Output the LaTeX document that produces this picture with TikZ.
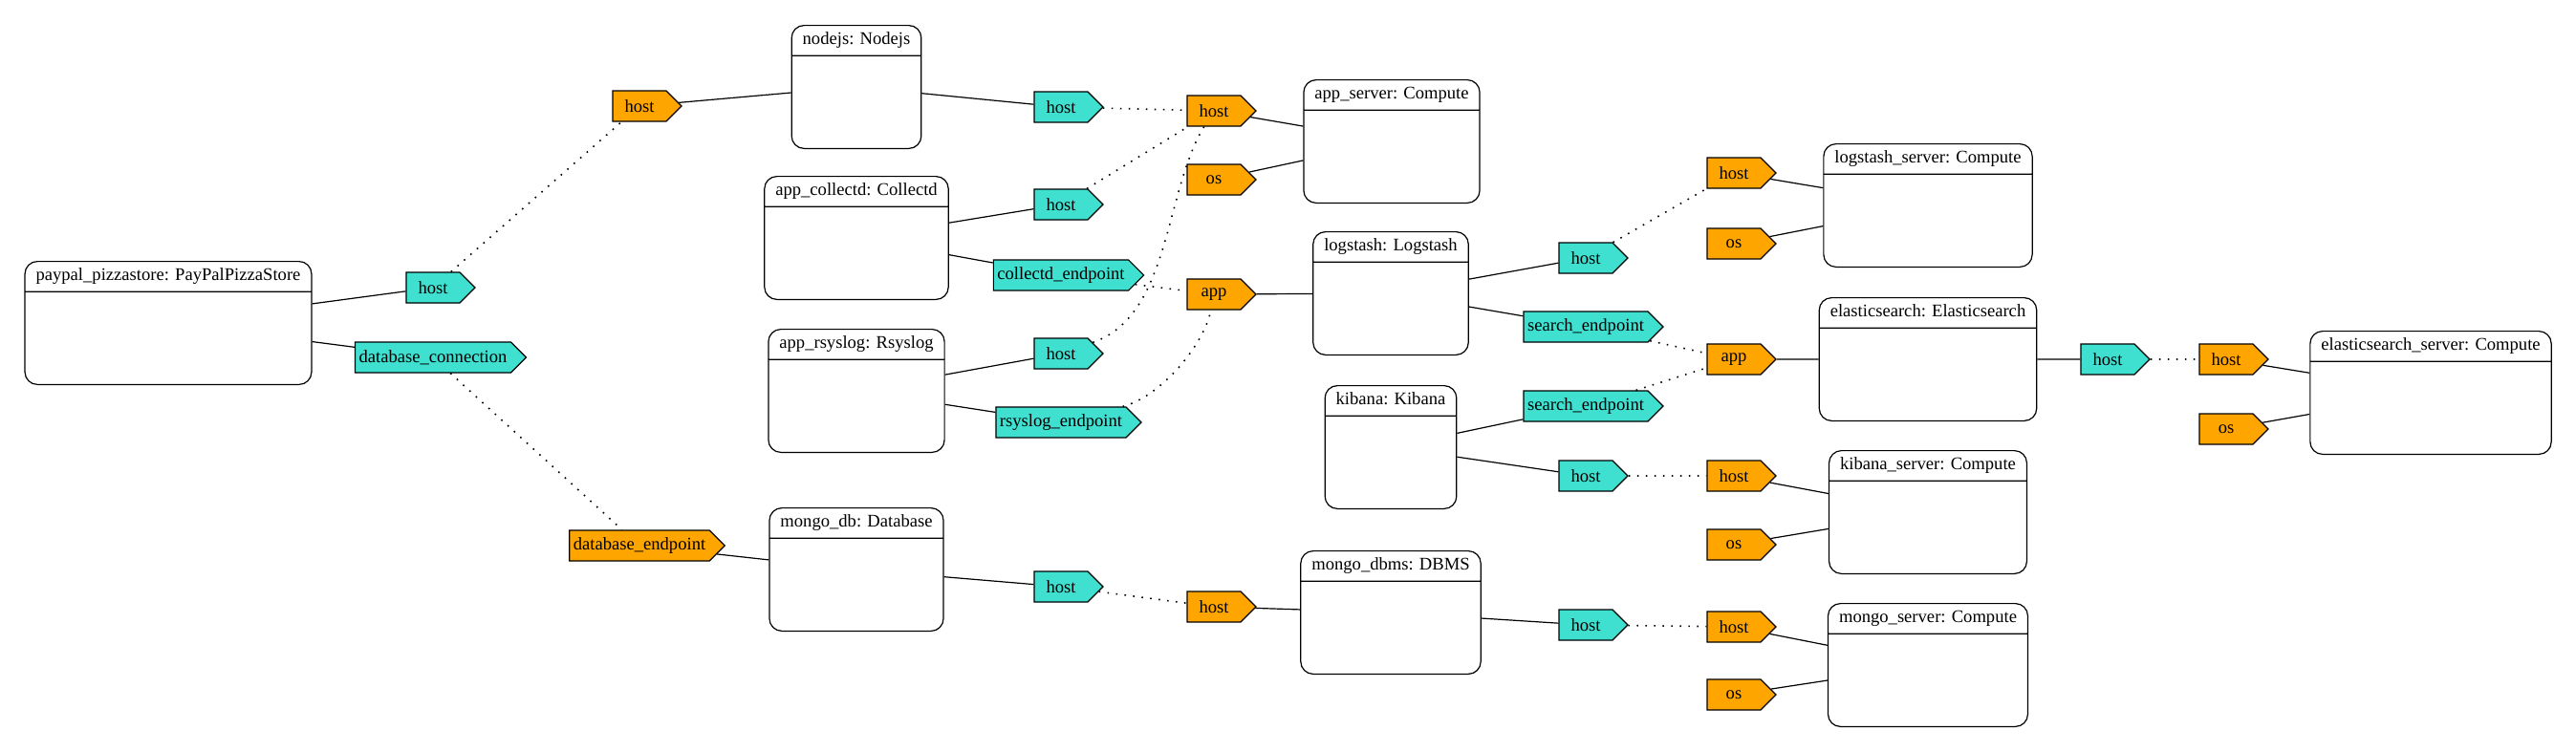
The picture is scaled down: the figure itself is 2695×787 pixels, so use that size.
\documentclass[tikz,border=0pt]{standalone}
\usepackage{fontspec}
\setmainfont{Liberation Serif}
\usetikzlibrary{shapes,positioning}
\definecolor{capfill}{RGB}{255,165,0}
\definecolor{reqfill}{RGB}{64,224,208}

\begin{document}
\begin{tikzpicture}[
    x=0.5pt, y=-0.5pt,
    component/.style={rectangle split, rectangle split parts=2, draw=black, line width=0.6pt, rounded corners=6.5pt, fill=white, inner xsep=5.75pt, inner ysep=2pt, rectangle split empty part height=44pt, rectangle split empty part depth=0pt, font=\fontsize{9.3}{11.2}\selectfont},
    port/.style={signal, signal to=east, signal pointer angle=90, draw=black, line width=0.6pt, minimum width=36pt, minimum height=16pt, inner xsep=2pt, inner ysep=0pt, xshift=-3.5pt, font=\fontsize{9.3}{11.2}\selectfont},
    capability/.style={port, fill=capfill},
    requirement/.style={port, fill=reqfill},
    link/.style={line width=0.6pt},
    relation/.style={line width=0.8pt, dash pattern=on 0.8pt off 3.7pt}
]
\useasboundingbox (0,0) rectangle (2695,787);

% Pizza store
\node[component] (paypal) at (176,338) {\strut paypal\_pizzastore: PayPalPizzaStore\nodepart{two}};
\node[requirement] (paypalhost) at (460,301) {host};
\node[requirement] (paypaldb) at (460,374) {database\_connection};

% Nodejs
\node[capability] (nodejscap) at (676,111) {host};
\node[component] (nodejs) at (896,91) {\strut nodejs: Nodejs\nodepart{two}};
\node[requirement] (nodejsreq) at (1117,112) {host};

% App server
\node[capability] (appservercap) at (1277,116) {host};
\node[capability] (appserveros) at (1277,188) {os};
\node[component] (appserver) at (1456,148) {\strut app\_server: Compute\nodepart{two}};

% Collectd
\node[component] (collectd) at (896,249) {\strut app\_collectd: Collectd\nodepart{two}};
\node[requirement] (collectdhost) at (1117,214) {host};
\node[requirement] (collectdend) at (1117,288) {collectd\_endpoint};

% Rsyslog
\node[component] (rsyslog) at (896,409) {\strut app\_rsyslog: Rsyslog\nodepart{two}};
\node[requirement] (rsysloghost) at (1117,370) {host};
\node[requirement] (rsyslogend) at (1117,442) {rsyslog\_endpoint};

% Logstash
\node[capability] (logstashapp) at (1277,308) {app};
\node[component] (logstash) at (1455,307) {\strut logstash: Logstash\nodepart{two}};
\node[requirement] (logstashhost) at (1666,270) {host};
\node[requirement] (logstashsearch) at (1666,342) {search\_endpoint};

% Logstash server
\node[capability] (lsserverhost) at (1821,181) {host};
\node[capability] (lsserveros) at (1821,255) {os};
\node[component] (lsserver) at (2017,215) {\strut logstash\_server: Compute\nodepart{two}};

% Elasticsearch
\node[capability] (elasticapp) at (1821,376) {app};
\node[component] (elastic) at (2017,376) {\strut elasticsearch: Elasticsearch\nodepart{two}};
\node[requirement] (elastichost) at (2212,376) {host};

% Elasticsearch server
\node[capability] (esserverhost) at (2336,376) {host};
\node[capability] (esserveros) at (2336,449) {os};
\node[component] (esserver) at (2543,411) {\strut elasticsearch\_server: Compute\nodepart{two}};

% Kibana
\node[component] (kibana) at (1455,468) {\strut kibana: Kibana\nodepart{two}};
\node[requirement] (kibanasearch) at (1666,425) {search\_endpoint};
\node[requirement] (kibanahost) at (1666,498) {host};

% Kibana server
\node[capability] (kbserverhost) at (1821,498) {host};
\node[capability] (kbserveros) at (1821,570) {os};
\node[component] (kbserver) at (2017,536) {\strut kibana\_server: Compute\nodepart{two}};

% Mongo
\node[capability] (dbend) at (676,571) {database\_endpoint};
\node[component] (mongodb) at (896,596) {\strut mongo\_db: Database\nodepart{two}};
\node[requirement] (mongodbhost) at (1117,614) {host};
\node[capability] (dbmscap) at (1277,635) {host};
\node[component] (dbms) at (1455,641) {\strut mongo\_dbms: DBMS\nodepart{two}};
\node[requirement] (dbmsreq) at (1666,654) {host};
\node[capability] (mgserverhost) at (1821,656) {host};
\node[capability] (mgserveros) at (1821,727) {os};
\node[component] (mgserver) at (2017,696) {\strut mongo\_server: Compute\nodepart{two}};

% Links to own ports
\draw[link] (paypal) -- (paypalhost);
\draw[link] (paypal) -- (paypaldb);
\draw[link] (nodejscap) -- (nodejs);
\draw[link] (nodejs) -- (nodejsreq);
\draw[link] (appservercap) -- (appserver);
\draw[link] (appserveros) -- (appserver);
\draw[link] (collectd) -- (collectdhost);
\draw[link] (collectd) -- (collectdend);
\draw[link] (rsyslog) -- (rsysloghost);
\draw[link] (rsyslog) -- (rsyslogend);
\draw[link] (logstashapp) -- (logstash);
\draw[link] (logstash) -- (logstashhost);
\draw[link] (logstash) -- (logstashsearch);
\draw[link] (lsserverhost) -- (lsserver);
\draw[link] (lsserveros) -- (lsserver);
\draw[link] (elasticapp) -- (elastic);
\draw[link] (elastic) -- (elastichost);
\draw[link] (esserverhost) -- (esserver);
\draw[link] (esserveros) -- (esserver);
\draw[link] (kibana) -- (kibanasearch);
\draw[link] (kibana) -- (kibanahost);
\draw[link] (kbserverhost) -- (kbserver);
\draw[link] (kbserveros) -- (kbserver);
\draw[link] (dbend) -- (mongodb);
\draw[link] (mongodb) -- (mongodbhost);
\draw[link] (dbmscap) -- (dbms);
\draw[link] (dbms) -- (dbmsreq);
\draw[link] (mgserverhost) -- (mgserver);
\draw[link] (mgserveros) -- (mgserver);

% Requirement to capability
\draw[relation] (paypalhost) -- (nodejscap);
\draw[relation] (paypaldb) -- (dbend);
\draw[relation] (nodejsreq) -- (appservercap);
\draw[relation] (collectdhost) -- (appservercap);
\draw[relation] (rsysloghost) .. controls (1225,330) and (1218,200) .. (appservercap);
\draw[relation] (collectdend) -- (logstashapp);
\draw[relation] (rsyslogend) .. controls (1215,415) and (1260,360) .. (logstashapp);
\draw[relation] (logstashhost) -- (lsserverhost);
\draw[relation] (logstashsearch) -- (elasticapp);
\draw[relation] (kibanasearch) -- (elasticapp);
\draw[relation] (kibanahost) -- (kbserverhost);
\draw[relation] (elastichost) -- (esserverhost);
\draw[relation] (mongodbhost) -- (dbmscap);
\draw[relation] (dbmsreq) -- (mgserverhost);

\end{tikzpicture}
\end{document}
